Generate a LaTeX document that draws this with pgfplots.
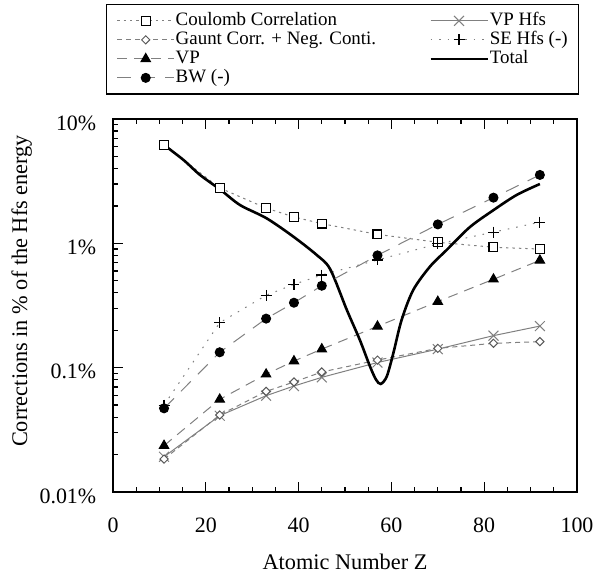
\documentclass[border=0pt]{standalone}
\usepackage{fontspec}
\setmainfont{Liberation Serif}
\usepackage{pgfplots}
\pgfplotsset{compat=1.18}
\definecolor{lg}{gray}{0.5}
\definecolor{mg}{gray}{0.35}
\begin{document}
\begin{tikzpicture}
\useasboundingbox (-56.5bp,-39.5bp) rectangle (241bp,246bp);
\begin{axis}[
  at={(0,0)}, anchor=south west, scale only axis,
  width=232bp, height=186.5bp,
  xmin=0, xmax=100, ymode=log, ymin=0.01, ymax=10,
  xtick={0,20,40,60,80,100}, minor x tick num=3,
  ytick={0.01,0.1,1,10}, yticklabels={0.01\%,0.1\%,1\%,10\%},
  ytick pos=left, xtick pos=both, tick align=inside,
  major tick length=5bp, minor tick length=2.7bp,
  every tick/.style={black, line width=0.6bp},
  axis line style={line width=0.9bp},
  /pgf/number format/assume math mode=true,
  tick label style={font=\fontsize{11}{13}\selectfont},
  xticklabel style={anchor=center, yshift=-16.5bp},
  yticklabel style={anchor=east, inner sep=0pt, xshift=-8.2bp, yshift=-2bp},
  xlabel={Atomic Number Z},
  ylabel={Corrections in \% of the Hfs energy},
  label style={font=\fontsize{11.2}{13}\selectfont},
  xlabel style={at={(axis description cs:0.5,-0.186)}, anchor=center},
  ylabel style={at={(axis description cs:-0.197,0.539)}, anchor=center},
  legend columns=2,
  legend cell align=left,
  legend image code/.code={\draw[mark repeat=2,mark phase=2,#1] plot coordinates {(0bp,0bp) (14.25bp,0bp) (28.5bp,0bp)};},
  legend style={at={(axis description cs:-0.0151,1.3083)}, anchor=north west,
    draw=black, line width=0.75bp, fill=white,
    font=\fontsize{9.5}{10}\selectfont,
    inner xsep=5bp, inner ysep=3.3bp, row sep=0pt,
    nodes={inner xsep=0.5bp, inner ysep=0pt, text height=7bp, text depth=2.5bp},
    /tikz/column 2/.style={column sep=26bp}},
]
\addplot[lg, line width=0.5bp, dash pattern=on 1.2bp off 2bp,
  mark=square*, mark size=2.2bp, mark options={solid, fill=white, draw=black, line width=0.6bp}]
  coordinates {(11,6.18)(23,2.79)(33,1.92)(39,1.63)(45,1.44)(57,1.18)(70,1.02)(82,0.93)(92,0.90)};
\addlegendentry{Coulomb Correlation}
\addplot[lg, line width=0.5bp,
  mark=x, mark size=3.5bp, mark options={solid, draw=lg, line width=0.5bp}]
  coordinates {(11,0.0192)(23,0.0411)(33,0.0595)(39,0.0712)(45,0.0836)(57,0.110)(70,0.141)(82,0.181)(92,0.216)};
\addlegendentry{VP Hfs}
\addplot[lg, line width=0.5bp, dash pattern=on 2.5bp off 2bp,
  mark=square*, mark size=1.45bp, mark options={solid, rotate=45, fill=white, draw=mg, line width=0.5bp}]
  coordinates {(11,0.0184)(23,0.0416)(33,0.0645)(39,0.0767)(45,0.0923)(57,0.115)(70,0.143)(82,0.157)(92,0.162)};
\addlegendentry{Gaunt Corr. + Neg. Conti.}
\addplot[lg, line width=0.5bp, dash pattern=on 0.8bp off 3.5bp,
  mark=+, mark size=2.75bp, mark options={solid, draw=black, line width=0.55bp}]
  coordinates {(11,0.050)(23,0.230)(33,0.382)(39,0.468)(45,0.556)(57,0.735)(70,0.99)(82,1.23)(92,1.48)};
\addlegendentry{SE Hfs (-)}
\addplot[lg, line width=0.5bp, dash pattern=on 5bp off 3.5bp,
  mark=triangle*, mark size=2.7bp, mark options={solid, fill=black, draw=black}]
  coordinates {(11,0.0236)(23,0.0556)(33,0.0885)(39,0.113)(45,0.141)(57,0.215)(70,0.340)(82,0.514)(92,0.730)};
\addlegendentry{VP}
\addplot[black, line width=1.3bp, smooth, tension=0.5, no marks]
  coordinates {(11,6.18)(15.2,4.68)(18.75,3.55)(23.2,2.69)(27.4,2.03)(33.1,1.59)(38.9,1.13)(43.9,0.806)(46.8,0.62)(50.4,0.291)(53.2,0.167)(55.4,0.102)(56.7,0.080)(57.7,0.074)(59.0,0.085)(60.4,0.130)(62.2,0.242)(64.7,0.421)(68.3,0.649)(71.9,0.884)(76.9,1.35)(82.0,1.85)(87.0,2.45)(92,3.0)};
\addlegendentry{Total}
\addplot[lg, line width=0.5bp, dash pattern=on 7bp off 5bp,
  mark=*, mark size=2.25bp, mark options={solid, fill=black, draw=black}]
  coordinates {(11,0.0471)(23,0.133)(33,0.248)(39,0.333)(45,0.456)(57,0.80)(70,1.42)(82,2.33)(92,3.55)};
\addlegendentry{BW (-)}
\end{axis}
\end{tikzpicture}
\end{document}
